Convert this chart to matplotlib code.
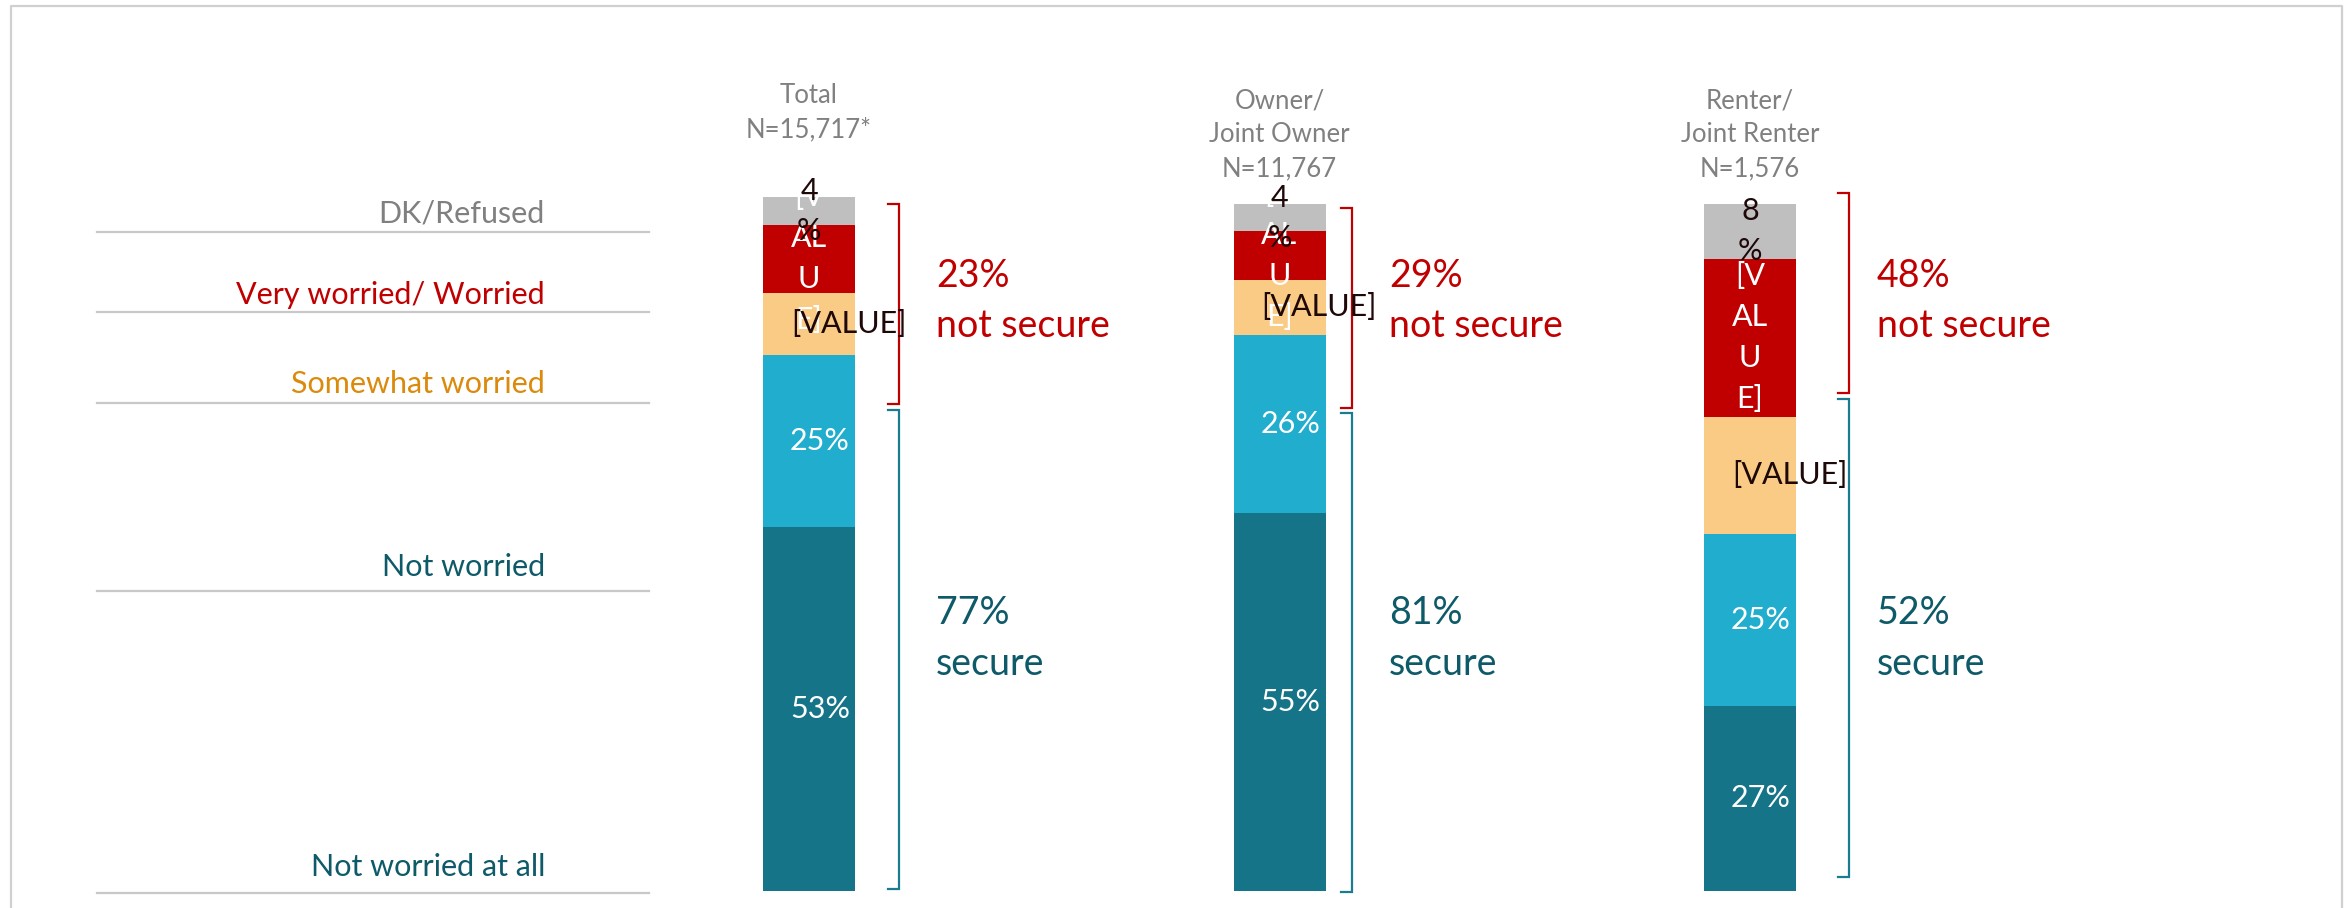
import matplotlib.pyplot as plt
from matplotlib.lines import Line2D

plt.rcParams['font.family'] = ['Lato', 'DejaVu Sans']

# data
groups = [['Total', 'N=15,717*'],
          ['Owner/', 'Joint Owner', 'N=11,767'],
          ['Renter/', 'Joint Renter', 'N=1,576']]
categories = ['Not worried at all', 'Not worried', 'Somewhat worried',
              'Very worried/ Worried', 'DK/Refused']
not_worried_at_all = [53, 55, 27]
not_worried = [25, 26, 25]
somewhat_worried = [9, 8, 17]
very_worried = [10, 7, 23]
dk_refused = [4, 4, 8]
not_secure = [23, 29, 48]
secure = [77, 81, 52]

series = [not_worried_at_all, not_worried, somewhat_worried, very_worried, dk_refused]
colors = ['#167488', '#21ADCE', '#F9CB85', '#C00000', '#BFBFBF']
cat_colors = ['#0E5A69', '#0E5A69', '#DB8A0C', '#C00000', '#808080']
RED = '#C00000'
TEAL = '#0E5A69'
BRACKET_TEAL = '#1B7C90'
DARK = '#1E0808'

W, H = 2349, 908
fig = plt.figure(figsize=(W / 100, H / 100), dpi=100)
ax = fig.add_axes([0, 0, 1, 1])

# map: bar i centred at 809 + 470.5*i px, y=0 at 891 px, 6.87 px per percent
xs, ys = 470.5, 6.87
ax.set_xlim(-809 / xs, (W - 809) / xs)
ax.set_ylim(-(H - 891) / ys, 891 / ys)
ax.axis('off')


def X(px):
    return (px - 809) / xs


def Y(py):
    return (891 - py) / ys


dx = 1 / xs  # one pixel in x units
dy = 1 / ys  # one pixel in y units
idx = list(range(len(groups)))
bar_w = 92 * dx
fs_bar = 22

bottom = [0, 0, 0]
for k, vals in enumerate(series):
    ax.bar(idx, vals, bottom=bottom, width=bar_w, color=colors[k], zorder=2)
    for i, v in enumerate(vals):
        mid = bottom[i] + v / 2
        if k in (0, 1):
            ax.text(i + 11 * dx, mid, f'{v}%', color='white', fontsize=fs_bar,
                    ha='center', va='center', zorder=4)
        elif k == 2:
            ax.text(i - 18 * dx, mid, '[VALUE]', color=DARK, fontsize=fs_bar,
                    ha='left', va='center', zorder=5)
        elif k == 3:
            for j, frag in enumerate(['[V', 'AL', 'U', 'E]']):
                ax.text(i, mid + (1.5 - j) * 41 * dy, frag, color='white',
                        fontsize=fs_bar, ha='center', va='center', zorder=4)
        else:
            for j, frag in enumerate([f'{v}', '%']):
                ax.text(i, mid + (0.5 - j) * 40 * dy, frag, color=DARK,
                        fontsize=fs_bar, ha='center', va='center', zorder=5)
    bottom = [b + v for b, v in zip(bottom, vals)]

# column headers
head_py = [103, 108, 108]
for i, lines in enumerate(groups):
    for j, line in enumerate(lines):
        ax.text(i, Y(head_py[i] + j * 34), line, color='#808080', fontsize=18.5,
                ha='center', va='baseline')

# left category labels with separator lines
line_py = [893, 591, 403, 312, 232]
label_py = [876, 576, 393, 304, 222]
for c, lp, tp, col in zip(categories, line_py, label_py, cat_colors):
    ax.plot([X(97), X(649)], [Y(lp), Y(lp)], color='#C8C8C8', lw=1.6)
    ax.text(X(545), Y(tp), c, color=col, fontsize=22, ha='right', va='baseline')

# brackets and summary text
br_x = [899, 1352, 1849]
red_span = [(204, 404), (208, 408), (193, 393)]
teal_span = [(410, 889), (413, 892), (399, 877)]
txt_x = [936, 1389, 1877]
for i in idx:
    for (top, bot), col in [(red_span[i], RED), (teal_span[i], BRACKET_TEAL)]:
        ax.plot([X(br_x[i] - 11), X(br_x[i]), X(br_x[i]), X(br_x[i] - 11)],
                [Y(top), Y(top), Y(bot), Y(bot)], color=col, lw=1.6,
                solid_joinstyle='miter')
    ax.text(X(txt_x[i]), Y(287), f'{not_secure[i]}%', color=RED, fontsize=27, va='baseline')
    ax.text(X(txt_x[i]), Y(337), 'not secure', color=RED, fontsize=27, va='baseline')
    ax.text(X(txt_x[i]), Y(624), f'{secure[i]}%', color=TEAL, fontsize=27, va='baseline')
    ax.text(X(txt_x[i]), Y(675), 'secure', color=TEAL, fontsize=27, va='baseline')

# outer frame (open at the bottom)
fig.add_artist(Line2D([11 / W, 11 / W, 2342 / W, 2342 / W],
                      [0, 1 - 6 / H, 1 - 6 / H, 0],
                      transform=fig.transFigure, color='#D0D0D0', lw=1.6))

fig.savefig('out.png', dpi=100)
